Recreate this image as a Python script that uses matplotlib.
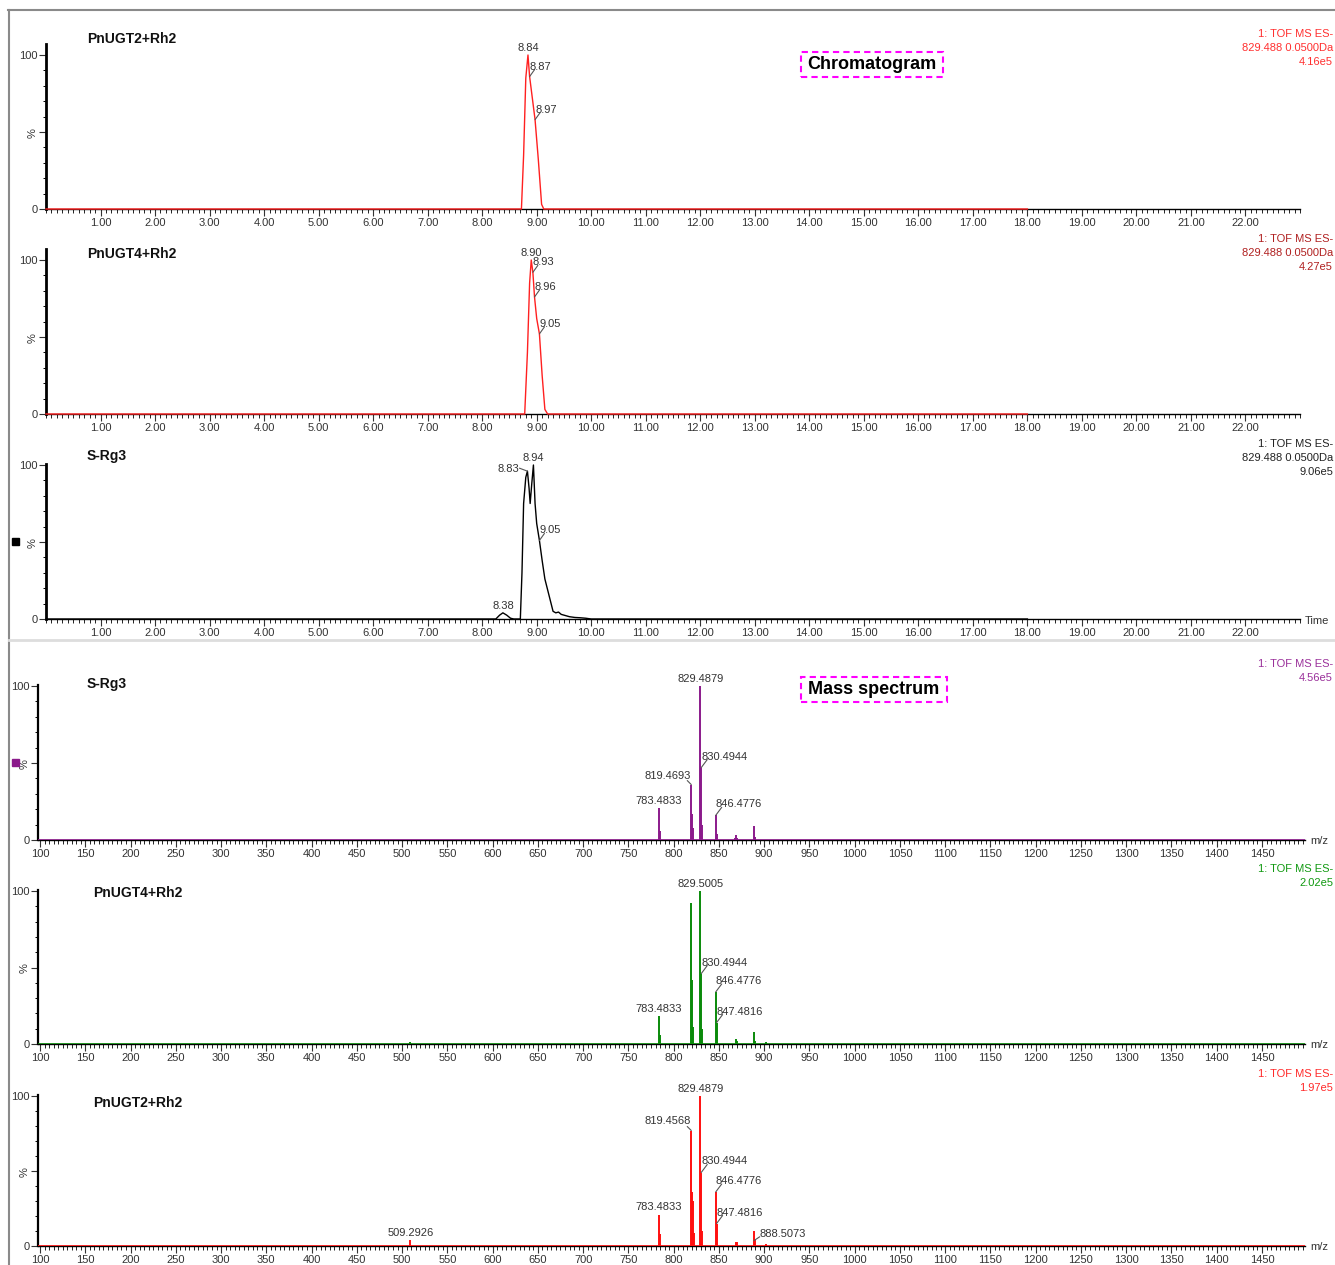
import numpy as np
import matplotlib
matplotlib.use("Agg")
import matplotlib.pyplot as plt
from matplotlib.lines import Line2D
from matplotlib.patches import Rectangle
from matplotlib.ticker import FixedLocator, MultipleLocator

plt.rcParams['font.family'] = ['Liberation Sans', 'DejaVu Sans']

# ---------------- data ----------------
# Chromatograms (time in min, relative intensity %)
chrom_names = ["PnUGT2+Rh2", "PnUGT4+Rh2", "S-Rg3"]
ugt2_t = [0, 8.72, 8.76, 8.80, 8.84, 8.87, 8.92, 8.97, 9.03, 9.09, 9.13, 18]
ugt2_i = [0, 0, 35, 85, 100, 86, 72, 58, 32, 3, 0, 0]
ugt4_t = [0, 8.78, 8.83, 8.87, 8.90, 8.93, 8.96, 9.00, 9.05, 9.10, 9.15, 9.20, 18]
ugt4_i = [0, 0, 40, 85, 100, 92, 76, 62, 52, 25, 3, 0, 0]
srg3_t = [0, 8.25, 8.32, 8.38, 8.45, 8.52, 8.58, 8.70, 8.73, 8.76, 8.80, 8.83, 8.86,
          8.88, 8.91, 8.94, 8.97, 9.00, 9.05, 9.10, 9.15, 9.20, 9.25, 9.30, 9.35,
          9.40, 9.45, 9.50, 9.60, 9.70, 9.80, 9.90, 10.0, 18]
srg3_i = [0, 0, 2.5, 4, 2.5, 0.5, 0, 0, 30, 75, 92, 96, 85, 75, 88, 100, 75, 62, 51,
          38, 26, 19, 12, 5, 4, 4.5, 3, 2.5, 1.5, 1, 0.8, 0.5, 0, 0]
ugt2_peaks = ["8.84", "8.87", "8.97"]
ugt4_peaks = ["8.90", "8.93", "8.96", "9.05"]
srg3_peaks = ["8.38", "8.83", "8.94", "9.05"]
chrom_info = [["1: TOF MS ES-", "829.488 0.0500Da", "4.16e5"],
              ["1: TOF MS ES-", "829.488 0.0500Da", "4.27e5"],
              ["1: TOF MS ES-", "829.488 0.0500Da", "9.06e5"]]

# Mass spectra (m/z, relative intensity %)
ms_names = ["S-Rg3", "PnUGT4+Rh2", "PnUGT2+Rh2"]
ms_srg3_mz = [783.48, 784.49, 819.47, 820.47, 821.48, 829.49, 830.49, 831.50,
              846.48, 847.48, 867.5, 868.5, 869.5, 888.5, 889.5]
ms_srg3_i = [21, 6, 36, 17, 8, 100, 47, 10, 16, 4, 1.5, 3, 1.5, 9, 2]
ms_ugt4_mz = [369.0, 509.3, 783.48, 784.49, 819.47, 820.47, 821.48, 829.50, 830.49,
              831.50, 846.48, 847.48, 868.5, 869.5, 888.5, 889.5, 902.5]
ms_ugt4_i = [0.8, 1, 18, 6, 92, 42, 11, 100, 46, 10, 34, 14, 3, 2, 8, 2, 1.5]
ms_ugt2_mz = [509.29, 783.48, 784.49, 819.46, 820.46, 821.47, 822.5, 829.49, 830.49,
              831.50, 846.48, 847.48, 868.5, 869.5, 888.51, 889.5, 902.5]
ms_ugt2_i = [4, 21, 8, 77, 36, 30, 9, 100, 49, 10, 36, 15, 3, 3, 10, 4, 1.5]
ms_srg3_labels = ["829.4879", "830.4944", "819.4693", "783.4833", "846.4776"]
ms_ugt4_labels = ["829.5005", "830.4944", "846.4776", "847.4816", "783.4833"]
ms_ugt2_labels = ["829.4879", "819.4568", "830.4944", "846.4776", "847.4816",
                  "888.5073", "783.4833", "509.2926"]
ms_info = [["1: TOF MS ES-", "4.56e5"], ["1: TOF MS ES-", "2.02e5"], ["1: TOF MS ES-", "1.97e5"]]

chrom_ticks = list(range(1, 23))
ms_ticks = list(range(100, 1451, 50))

# ---------------- layout ----------------
W, H = 1335, 1265
fig = plt.figure(figsize=(W / 100, H / 100), dpi=100)


def fx(px):
    return px / W


def fy(py):
    return 1 - py / H


def add_ax(left, right, y0, ytop_val, px_per_unit=1.54):
    top = y0 - ytop_val * px_per_unit
    return fig.add_axes([fx(left), fy(y0), (right - left) / W, (y0 - top) / H])


LABEL_C = '#333333'
PT = 0.72  # points per pixel at 100 dpi


def style_axis(ax, left_lw):
    for s in ['top', 'right']:
        ax.spines[s].set_visible(False)
    ax.spines['left'].set_linewidth(left_lw)
    ax.spines['bottom'].set_linewidth(1.0)
    ax.set_yticks([0, 50, 100])
    ax.set_yticklabels(['0', '%', '100'])
    ax.get_yticklabels()[1].set_rotation(90)
    ax.yaxis.set_minor_locator(MultipleLocator(10))
    ax.tick_params(axis='y', which='major', length=5, width=0.8, labelsize=8,
                   pad=1, colors='#333333')
    ax.tick_params(axis='y', which='minor', length=2.5, width=0.7)
    ax.tick_params(axis='x', which='major', length=5, width=0.8, labelsize=8,
                   pad=1.5, colors='#333333')
    ax.tick_params(axis='x', which='minor', length=3, width=0.6)
    ax.patch.set_alpha(0)


def lead_label(ax, x, y, text, lx, ly, tx, ty, ha, fs=8):
    # leader line from the peak point to (lx, ly) px, text anchored at (tx, ty) px
    ax.annotate('', xy=(x, y), xytext=(lx * PT, ly * PT), textcoords='offset points',
                arrowprops=dict(arrowstyle='-', color='#555555', lw=0.8,
                                shrinkA=0, shrinkB=0))
    ax.annotate(text, xy=(x, y), xytext=(tx * PT, ty * PT), textcoords='offset points',
                ha=ha, va='bottom', fontsize=fs, color=LABEL_C)


def top_label(ax, x, y, text, fs=8):
    ax.annotate(text, xy=(x, y), xytext=(0, 1.5), textcoords='offset points',
                ha='center', va='bottom', fontsize=fs, color=LABEL_C)


# ---------- chromatograms ----------
chrom_data = [(ugt2_t, ugt2_i, ugt2_peaks, '#ff2020'),
              (ugt4_t, ugt4_i, ugt4_peaks, '#ff2020'),
              (srg3_t, srg3_i, srg3_peaks, '#000000')]
chrom_y0 = [209, 414, 619]
chrom_top = [107, 107, 100.5]
chrom_name_off = [170, 160, 163]
info_cols = ['#ff3030', '#b02020', '#222222']
for k, ((t, inten, peaks, col), y0, yt) in enumerate(zip(chrom_data, chrom_y0, chrom_top)):
    ax = add_ax(46, 1300, y0, yt)
    ax.set_xlim(0, 23)
    ax.set_ylim(0, yt)
    style_axis(ax, 2.0)
    ax.xaxis.set_major_locator(FixedLocator(chrom_ticks))
    ax.set_xticklabels([f"{v:.2f}" for v in chrom_ticks])
    ax.xaxis.set_minor_locator(MultipleLocator(0.1))
    ax.plot(t, inten, color=col, lw=1.0, clip_on=False, zorder=3)
    maxv = max(inten)
    for p in peaks:
        v = float(p)
        yv = float(np.interp(v, t, inten))
        if abs(yv - maxv) < 1e-6:
            top_label(ax, v, yv, p)
        elif k == 2 and v < t[int(np.argmax(inten))] and yv > 50:
            lead_label(ax, v, yv, p, -8, 3, -8, -3, 'right')
        elif yv < 10:
            top_label(ax, v, yv, p)
        else:
            lead_label(ax, v, yv, p, 5, 7, 0, 5, 'left')
    fig.text(fx(87), fy(y0 - chrom_name_off[k]), chrom_names[k], fontsize=10,
             fontweight='bold', ha='left', va='center', color='#111111')
    for j, line in enumerate(chrom_info[k]):
        fig.text(fx(1333), fy(y0 - 175 + 14 * j), line, fontsize=8, ha='right',
                 va='center', color=info_cols[k])
    if k == 2:
        fig.text(fx(1305), fy(y0 + 2), "Time", fontsize=8, ha='left', va='center',
                 color='#333333')

# ---------- mass spectra ----------
ms_data = [(ms_srg3_mz, ms_srg3_i, ms_srg3_labels, '#8b1a8b'),
           (ms_ugt4_mz, ms_ugt4_i, ms_ugt4_labels, '#0a8a0a'),
           (ms_ugt2_mz, ms_ugt2_i, ms_ugt2_labels, '#ff1010')]
ms_y0 = [840, 1044, 1246]
ms_name_y = [684, 893, 1103]
ms_info_y = [664, 869, 1074]
ms_info_cols = ['#9a309a', '#119911', '#ff2a2a']
ms_name_x = [87, 93, 93]
for k, ((mz, inten, labs, col), y0) in enumerate(zip(ms_data, ms_y0)):
    ax = add_ax(38, 1305, y0, 100.5, px_per_unit=(y0 - ms_info_y[k] - 22) / 100)
    ax.set_xlim(97.8, 1497.5)
    ax.set_ylim(0, 100.5)
    style_axis(ax, 1.6)
    ax.xaxis.set_major_locator(FixedLocator(ms_ticks))
    ax.set_xticklabels([str(v) for v in ms_ticks])
    ax.xaxis.set_minor_locator(MultipleLocator(5))
    ax.axhline(0, color=col, lw=1.2, zorder=3)
    ax.vlines(mz, 0, inten, color=col, lw=1.4, zorder=3)
    mz_arr = np.array(mz)
    imax = int(np.argmax(inten))
    for lab in labs:
        v = float(lab)
        idx = int(np.argmin(np.abs(mz_arr - v)))
        yv = inten[idx]
        xv = mz[idx]
        if idx == imax or xv < 800 or (yv < 6 and xv < 850):
            top_label(ax, xv, yv, lab)
        elif xv < mz[imax]:
            lead_label(ax, xv, yv, lab, -4, 4, 0, 4, 'right')
        elif xv > 880:
            lead_label(ax, xv, yv * 0.35, lab, 6, 4, 6, 2, 'left')
        else:
            lead_label(ax, xv, yv, lab, 6, 8, 0, 6, 'left')
    fig.text(fx(1310), fy(y0 + 1), "m/z", fontsize=8, ha='left', va='center',
             color='#333333')
    fig.text(fx(ms_name_x[k]), fy(ms_name_y[k]), ms_names[k], fontsize=10,
             fontweight='bold', ha='left', va='center', color='#111111')
    for j, line in enumerate(ms_info[k]):
        fig.text(fx(1333), fy(ms_info_y[k] + 14 * j), line, fontsize=8, ha='right',
                 va='center', color=ms_info_cols[k])

# ---------- decorations ----------
fig.add_artist(Line2D([fx(8), fx(1335)], [fy(10), fy(10)], color='#8a8a8a', lw=1.5,
                      transform=fig.transFigure))
fig.add_artist(Line2D([fx(9), fx(9)], [fy(10), fy(1265)], color='#8a8a8a', lw=1.5,
                      transform=fig.transFigure))
fig.add_artist(Line2D([fx(9), fx(1335)], [fy(640), fy(640)], color='#dddddd', lw=2,
                      transform=fig.transFigure))
fig.add_artist(Rectangle((fx(12), fy(545)), 7 / W, 7 / H, color='black',
                         transform=fig.transFigure))
fig.add_artist(Rectangle((fx(12), fy(766)), 7 / W, 7 / H, color='#8b1a8b',
                         transform=fig.transFigure))

for (x0, x1, y0, y1, txt) in [(801, 943, 52, 77, "Chromatogram"),
                              (801, 947, 677, 702, "Mass spectrum")]:
    fig.add_artist(Rectangle((fx(x0), fy(y1)), (x1 - x0) / W, (y1 - y0) / H,
                             fill=False, edgecolor='#ff00ff', lw=1.5, ls=(0, (3, 2)),
                             transform=fig.transFigure))
    fig.text(fx((x0 + x1) / 2), fy((y0 + y1) / 2), txt, fontsize=13, fontweight='bold',
             ha='center', va='center', color='black')

fig.savefig("out.png", dpi=100)
